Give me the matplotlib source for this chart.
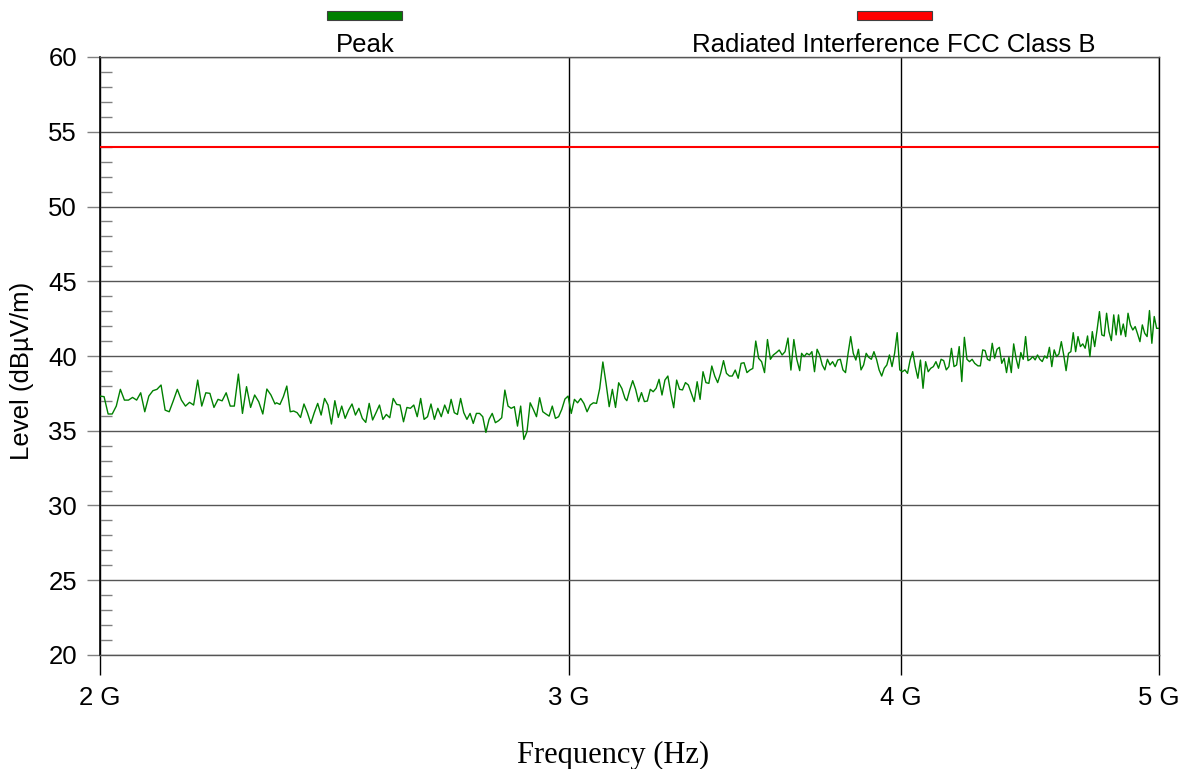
import numpy as np
import matplotlib
matplotlib.use("Agg")
import matplotlib.pyplot as plt
from matplotlib.patches import Rectangle
from matplotlib.ticker import FixedLocator, MultipleLocator, NullLocator

# ---------------- data ----------------
# Peak trace, read in consecutive frequency segments (MHz ranges) with levels in dBuV/m
seg_edges_mhz = [(2000, 2327), (2330, 2703), (2710, 3150), (3155, 3664), (3670, 4263), (4275, 5000)]

peak_seg1 = [37.32, 37.28, 36.12, 36.12, 36.65, 37.77, 37.05, 37.05, 37.23, 37.05, 37.54, 36.27,
             37.32, 37.68, 37.77, 38.06, 36.38, 36.27, 37.0, 37.77, 37.05, 36.65, 36.9, 36.72,
             38.39, 36.65, 37.54, 37.5, 36.56, 37.1, 37.0, 37.54, 36.65, 36.65, 38.79, 36.16,
             37.95, 36.56, 37.39, 36.94, 36.12, 37.79, 37.39, 36.79]
peak_seg2 = [36.87, 36.76, 37.28, 37.99, 36.27, 36.32, 36.21, 35.89, 36.79, 36.21, 35.49, 36.21,
             36.83, 36.05, 37.16, 36.72, 35.45, 37.01, 35.89, 36.65, 35.83, 36.38, 36.79, 36.05,
             36.5, 35.83, 35.56, 36.83, 35.72, 36.21, 36.72, 35.76, 36.09, 35.87, 37.16, 36.76,
             36.72, 35.6, 36.56, 36.5, 36.72, 35.94, 37.16, 35.76, 35.94, 36.79, 35.76, 36.5,
             35.94, 36.72, 36.16]
peak_seg3 = [37.1, 36.21, 36.09, 37.16, 36.21, 35.76, 36.16, 35.49, 36.16, 36.16, 35.94, 34.89,
             35.76, 36.16, 35.54, 35.67, 35.87, 37.72, 36.65, 36.5, 36.61, 35.31, 36.65, 34.42,
             34.94, 36.87, 36.43, 35.94, 37.21, 36.27, 36.12, 35.98, 36.65, 35.83, 35.94, 36.43,
             37.12, 37.32, 36.16, 37.1, 36.87, 37.16, 36.83, 36.27, 36.72, 36.87, 36.83, 37.83,
             39.6, 38.17, 36.61, 37.77, 36.56, 38.21, 37.83, 37.16]
peak_seg4 = [37.01, 37.73, 38.35, 37.77, 36.95, 37.55, 36.95, 36.99, 37.77, 37.61, 37.84, 38.44,
             37.39, 38.39, 38.66, 37.5, 36.54, 38.39, 37.77, 37.73, 38.22, 38.06, 37.5, 36.95,
             38.28, 37.1, 38.95, 38.22, 38.17, 39.33, 38.66, 38.22, 38.84, 39.69, 38.84, 38.66,
             38.66, 39.06, 38.51, 39.51, 39.55, 38.89, 39.06, 39.17, 41.0, 39.84, 39.62, 38.89,
             41.1, 39.78, 40.07, 40.22, 40.4, 40.07, 40.29, 41.2, 39.06, 41.1, 39.78, 39.02]
peak_seg5 = [40.18, 39.96, 40.18, 40.07, 40.29, 38.95, 40.45, 40.07, 39.4, 39.07, 39.78, 39.4,
             39.62, 39.29, 39.73, 39.78, 39.07, 38.89, 40.18, 41.3, 40.18, 39.73, 40.45, 39.07,
             39.4, 40.18, 39.91, 39.78, 40.29, 39.78, 39.07, 38.66, 39.18, 39.4, 40.07, 39.29,
             40.18, 41.56, 39.07, 38.95, 39.07, 38.84, 39.73, 40.29, 39.29, 38.51, 39.73, 37.84,
             39.62, 38.95, 39.18, 39.29, 39.62, 39.18, 39.78, 39.69, 39.07, 39.29, 40.51, 39.29,
             39.4, 40.63, 38.29, 41.25, 39.78, 39.62, 39.78, 39.51]
peak_seg6 = [39.34, 39.34, 40.41, 40.36, 39.78, 39.69, 40.85, 39.85, 40.45, 40.58, 39.51, 39.85,
             38.89, 39.91, 38.89, 40.81, 39.85, 39.18, 40.23, 39.78, 41.3, 39.69, 39.78, 39.96,
             39.74, 40.07, 39.78, 39.63, 40.0, 39.85, 40.58, 39.29, 40.41, 39.96, 40.14, 40.96,
             40.07, 39.02, 40.18, 40.29, 41.56, 40.29, 41.3, 40.63, 40.81, 40.52, 41.34, 39.96,
             41.63, 40.63, 41.74, 42.97, 41.41, 41.34, 42.86, 41.63, 41.03, 42.75, 41.41, 42.75,
             41.41, 42.14, 41.3, 42.86, 42.08, 41.74, 41.97, 41.48, 40.96, 42.08, 41.52, 41.3,
             43.04, 40.85, 42.64, 41.85, 41.85]

peak_segments = [peak_seg1, peak_seg2, peak_seg3, peak_seg4, peak_seg5, peak_seg6]

limit_freq_hz = [2e9, 5e9]
limit_level = [54, 54]

xtick_vals = [2e9, 3e9, 4e9, 5e9]
xtick_labels = ["2 G", "3 G", "4 G", "5 G"]
ytick_vals = [20, 25, 30, 35, 40, 45, 50, 55, 60]

legend_labels = ["Peak", "Radiated Interference FCC Class B"]
legend_colors = ["#008000", "#ff0000"]

# build frequency grid for the trace
peak_freq = []
peak_level = []
for (f0, f1), lv in zip(seg_edges_mhz, peak_segments):
    peak_freq.extend(np.geomspace(f0 * 1e6, f1 * 1e6, len(lv)))
    peak_level.extend(lv)

# ---------------- figure ----------------
plt.rcParams['font.family'] = ['Liberation Sans', 'DejaVu Sans']
W, H = 1188, 769
fig = plt.figure(figsize=(W / 100, H / 100), dpi=100)
ax = fig.add_axes([100 / W, 1 - 655 / H, (1159 - 100) / W, (655 - 57) / H])

ax.set_xscale('log')
ax.set_xlim(2e9, 5e9)
ax.set_ylim(20, 60)

ax.plot(limit_freq_hz, limit_level, color=legend_colors[1], lw=1.5, zorder=3)
ax.plot(peak_freq, peak_level, color=legend_colors[0], lw=1.0, zorder=4)

ax.xaxis.set_major_locator(FixedLocator(xtick_vals))
ax.xaxis.set_minor_locator(NullLocator())
ax.set_xticklabels(xtick_labels)
ax.yaxis.set_major_locator(FixedLocator(ytick_vals))
ax.yaxis.set_minor_locator(MultipleLocator(1))

ax.tick_params(axis='x', which='major', direction='out', length=14.4, width=1.0,
               color='black', pad=8, labelsize=18.5)
ax.tick_params(axis='y', which='major', direction='out', length=9.5, width=1.0,
               color='#808080', pad=7, labelsize=18.5)
ax.tick_params(axis='y', which='minor', direction='in', length=8.6, width=1.0,
               color='#808080')

ax.grid(axis='y', which='major', color='#555555', lw=1.0)
ax.grid(axis='x', which='major', color='black', lw=1.0)

for s in ['top', 'bottom']:
    ax.spines[s].set_color('#555555')
    ax.spines[s].set_linewidth(1.0)
ax.spines['left'].set_color('black')
ax.spines['left'].set_linewidth(1.2)
ax.spines['right'].set_color('black')
ax.spines['right'].set_linewidth(1.0)

fig.text(22 / W, 1 - 370.5 / H, "Level (dBµV/m)", rotation=90, ha='center', va='center',
         fontsize=18.5)
fig.text(613 / W, 1 - 755 / H, "Frequency (Hz)", ha='center', va='center',
         fontsize=22, family=['Liberation Serif', 'DejaVu Serif'])

# legend above axes
legend_x = [0.25, 0.75]
pw, ph = 75 / W, 9 / H
for lx, lab, col in zip(legend_x, legend_labels, legend_colors):
    cx = (100 + lx * (1159 - 100)) / W
    fig.patches.append(Rectangle((cx - pw / 2, 1 - 20 / H), pw, ph, transform=fig.transFigure,
                                 facecolor=col, edgecolor='#404040', lw=0.8))
    fig.text(cx, 1 - 52 / H, lab, ha='center', va='baseline', fontsize=18.5)

fig.savefig("out.png", dpi=100)
